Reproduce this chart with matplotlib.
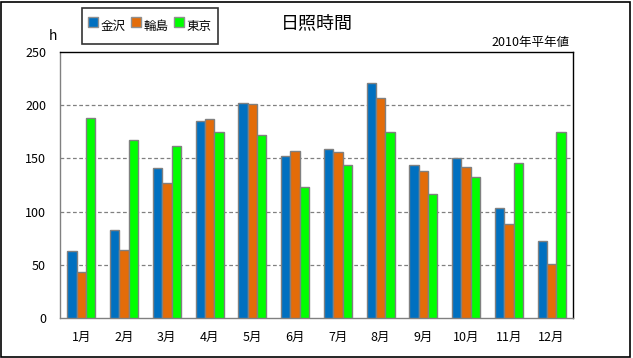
import matplotlib
matplotlib.use("Agg")
import matplotlib.pyplot as plt
import numpy as np
from matplotlib.patches import Rectangle
from matplotlib.lines import Line2D

plt.rcParams['font.family'] = ['Noto Sans CJK JP', 'DejaVu Sans']

months = ["1月", "2月", "3月", "4月", "5月", "6月", "7月", "8月", "9月", "10月", "11月", "12月"]
series_names = ["金沢", "輪島", "東京"]
kanazawa = [63, 83, 141, 185, 202, 152, 159, 221, 144, 150, 103, 72]
wajima = [43, 64, 127, 187, 201, 157, 156, 207, 138, 142, 88, 51]
tokyo = [188, 167, 162, 175, 172, 123, 144, 175, 117, 133, 146, 175]
colors = ["#0070C0", "#E36C09", "#00FF00"]

fig = plt.figure(figsize=(6.33, 3.58), dpi=100)
fig.patch.set_facecolor("white")
fig.patches.append(Rectangle((0.002, 0.003), 0.994, 0.992, transform=fig.transFigure,
                             fill=False, edgecolor="black", linewidth=1.2))

ax = fig.add_axes([0.0948, 0.1117, 0.8104, 0.743])
x = np.arange(len(months))
w = 0.22
for i, (vals, c, name) in enumerate(zip([kanazawa, wajima, tokyo], colors, series_names)):
    ax.bar(x + (i - 1) * w, vals, width=w, color=c, edgecolor="#808080",
           linewidth=1.0, label=name, zorder=3)

ax.set_xlim(-0.5, len(months) - 0.5)
ax.set_ylim(0, 250)
ax.set_yticks([0, 50, 100, 150, 200, 250])
ax.set_xticks(x)
ax.set_xticklabels(months, fontsize=9)
ax.tick_params(axis='y', labelsize=9, length=0, pad=10)
ax.tick_params(axis='x', length=0, pad=9)
for yv in [50, 100, 150, 200]:
    ax.axhline(yv, color="#808080", linestyle=(0, (3, 2)), linewidth=0.9, zorder=1)

ax.spines['left'].set_color("#808080")
ax.spines['bottom'].set_color("#808080")
ax.spines['top'].set_color("black")
ax.spines['right'].set_color("black")
for s in ax.spines.values():
    s.set_linewidth(1.0)

handles = [Line2D([], [], marker='s', linestyle='', markersize=7, markerfacecolor=c,
                  markeredgecolor='#909090', markeredgewidth=1.0) for c in colors]
leg = fig.legend(handles=handles, labels=series_names, loc="upper left",
                 bbox_to_anchor=(0.1295, 0.977), borderaxespad=0, ncol=3, fontsize=9,
                 frameon=True, fancybox=False, edgecolor="black",
                 handlelength=0.7, handleheight=2.5, handletextpad=0.25,
                 columnspacing=0.5, borderpad=0.5)
leg.get_frame().set_linewidth(1.2)

fig.text(0.5, 0.935, "日照時間", ha="center", va="center", fontsize=13)
fig.text(0.083, 0.9, "h", ha="center", va="center", fontsize=10)
fig.text(0.9, 0.882, "2010年平年値", ha="right", va="center", fontsize=9)

fig.savefig("out.png", dpi=100)
